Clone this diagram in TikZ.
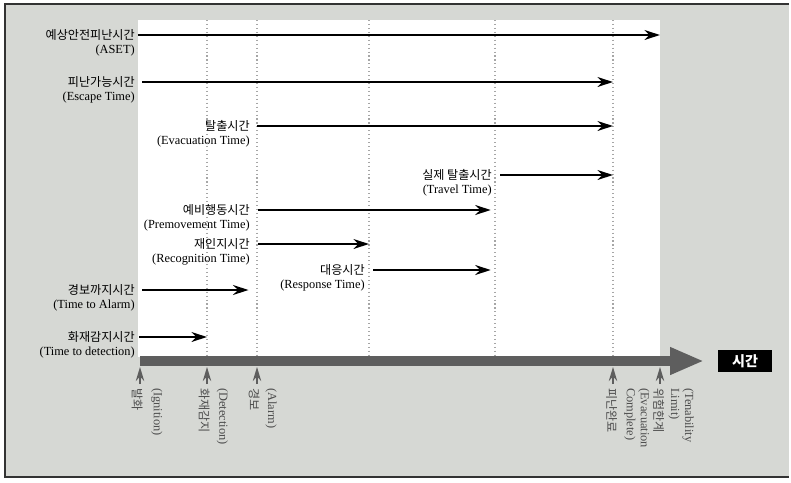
\documentclass[tikz,border=0pt]{standalone}
\usepackage{fontspec}
\setmainfont{Liberation Serif}
\newfontfamily\kr{Noto Sans CJK KR}
\usetikzlibrary{arrows.meta}

\definecolor{fondgris}{HTML}{D6D8D4}
\definecolor{axegris}{HTML}{5E5E5E}

\begin{document}
\begin{tikzpicture}[x=0.025cm, y=-0.025cm, >={Stealth[length=11pt,width=7pt]},
  kor/.style={font=\kr\fontsize{8.6}{10}\selectfont, inner sep=0pt, anchor=east},
  eng/.style={font=\fontsize{8.8}{10}\selectfont, inner sep=0pt, anchor=north east, yshift=-3pt},
  duree/.style={->, line width=1.7pt},
  tick/.style={-{Stealth[length=10pt,width=6pt]}, axegris, line width=0.8pt},
  bas/.style={rotate=-90, anchor=west, inner sep=0pt, text=black!70, align=left}]

  \useasboundingbox (0,0) rectangle (791,482);

  % ==========================================
  % FOND ET CADRE
  % ==========================================
  \fill[fondgris] (5,4) rectangle (789,477);
  \draw[black!80, line width=1.4pt] (789,4) -- (5,4) -- (5,477) -- (789,477);
  \fill[white] (138,20) rectangle (660,357);

  % Instants sur l'axe
  \coordinate (tIgn) at (140,0);
  \coordinate (tDet) at (207,0);
  \coordinate (tAla) at (257,0);
  \coordinate (tRec) at (369,0);
  \coordinate (tRes) at (495,0);
  \coordinate (tEva) at (613,0);
  \coordinate (tLim) at (660,0);

  % Lignes verticales en pointillés
  \foreach \t in {tDet,tAla,tRec,tRes,tEva}
    \draw[gray!70, dotted, thick] (\t |- 0,20) -- (\t |- 0,357);

  % ==========================================
  % DURÉES
  % ==========================================
  \node[kor] (aset) at (135,35) {예상안전피난시간};
  \node[eng] (asetEn) at (aset.south east) {(ASET)};
  \draw[duree] ([xshift=2pt]aset.east) -- (aset.east -| tLim);

  \node[kor] (esc) at (135,82) {피난가능시간};
  \node[eng] (escEn) at (esc.south east) {(Escape Time)};
  \draw[duree] ([xshift=5pt]esc.east) -- (esc.east -| tEva);

  \node[kor] (evac) at (250,126) {탈출시간};
  \node[eng] (evacEn) at (evac.south east) {(Evacuation Time)};
  \draw[duree] ([xshift=5pt]evac.east) -- (evac.east -| tEva);

  \node[kor] (trav) at (492,175) {실제 탈출시간};
  \node[eng] (travEn) at (trav.south east) {(Travel Time)};
  \draw[duree] ([xshift=6pt]trav.east) -- (trav.east -| tEva);

  \node[kor] (prem) at (250,210) {예비행동시간};
  \node[eng] (premEn) at (prem.south east) {(Premovement Time)};
  \draw[duree] ([xshift=6pt]prem.east) -- ([xshift=-3pt]prem.east -| tRes);

  \node[kor] (reco) at (250,244) {재인지시간};
  \node[eng] (recoEn) at (reco.south east) {(Recognition Time)};
  \draw[duree] ([xshift=6pt]reco.east) -- (reco.east -| tRec);

  \node[kor] (resp) at (365,270) {대응시간};
  \node[eng] (respEn) at (resp.south east) {(Response Time)};
  \draw[duree] ([xshift=6pt]resp.east) -- ([xshift=-3pt]resp.east -| tRes);

  \node[kor] (alar) at (135,290) {경보까지시간};
  \node[eng] (alarEn) at (alar.south east) {(Time to Alarm)};
  \draw[duree] ([xshift=5pt]alar.east) -- ([xshift=-6pt]alar.east -| tAla);

  \node[kor] (dete) at (135,337) {화재감지시간};
  \node[eng] (deteEn) at (dete.south east) {(Time to detection)};
  \draw[duree] ([xshift=3pt]dete.east) -- (dete.east -| tDet);

  % ==========================================
  % AXE DU TEMPS
  % ==========================================
  \node[fill=black, text=white, font=\kr\bfseries\fontsize{10}{12}\selectfont,
        minimum width=38pt, minimum height=15pt, inner sep=0pt] (temps) at (745,361) {시간};
  \draw[axegris, line width=7pt, -{Triangle[length=24pt,width=18pt]}]
    (tIgn |- 0,361) -- ([xshift=-10pt]temps.west);

  % Repères sous l'axe
  \foreach \t in {tIgn,tDet,tAla,tEva,tLim}
    \draw[tick] (\t |- 0,384) -- (\t |- 0,367);

  \node[bas, font=\kr\fontsize{8.6}{10}\selectfont] (ign) at ([xshift=-2]tIgn |- 0,388) {발화};
  \node[bas, font=\fontsize{8.8}{10}\selectfont] (ignEn) at ([xshift=12]tIgn |- 0,388) {(Ignition)};
  \node[bas, font=\kr\fontsize{8.6}{10}\selectfont] (det) at ([xshift=-2]tDet |- 0,388) {화재감지};
  \node[bas, font=\fontsize{8.8}{10}\selectfont] (detEn) at ([xshift=11]tDet |- 0,388) {(Detection)};
  \node[bas, font=\kr\fontsize{8.6}{10}\selectfont] (ala) at ([xshift=-2]tAla |- 0,388) {경보};
  \node[bas, font=\fontsize{8.8}{10}\selectfont] (alaEn) at ([xshift=10]tAla |- 0,388) {(Alarm)};
  \node[bas, font=\kr\fontsize{8.6}{10}\selectfont] (eva) at ([xshift=-1]tEva |- 0,388) {피난완료};
  \node[bas, font=\fontsize{8.8}{10}\selectfont] (evaEn) at ([xshift=17]tEva |- 0,388) {(Evacuation\\ Complete)};
  \node[bas, font=\kr\fontsize{8.6}{10}\selectfont] (lim) at ([xshift=-1]tLim |- 0,388) {위험한계};
  \node[bas, font=\fontsize{8.8}{10}\selectfont] (limEn) at ([xshift=15]tLim |- 0,388) {(Tenability\\ Limit)};

\end{tikzpicture}
\end{document}
